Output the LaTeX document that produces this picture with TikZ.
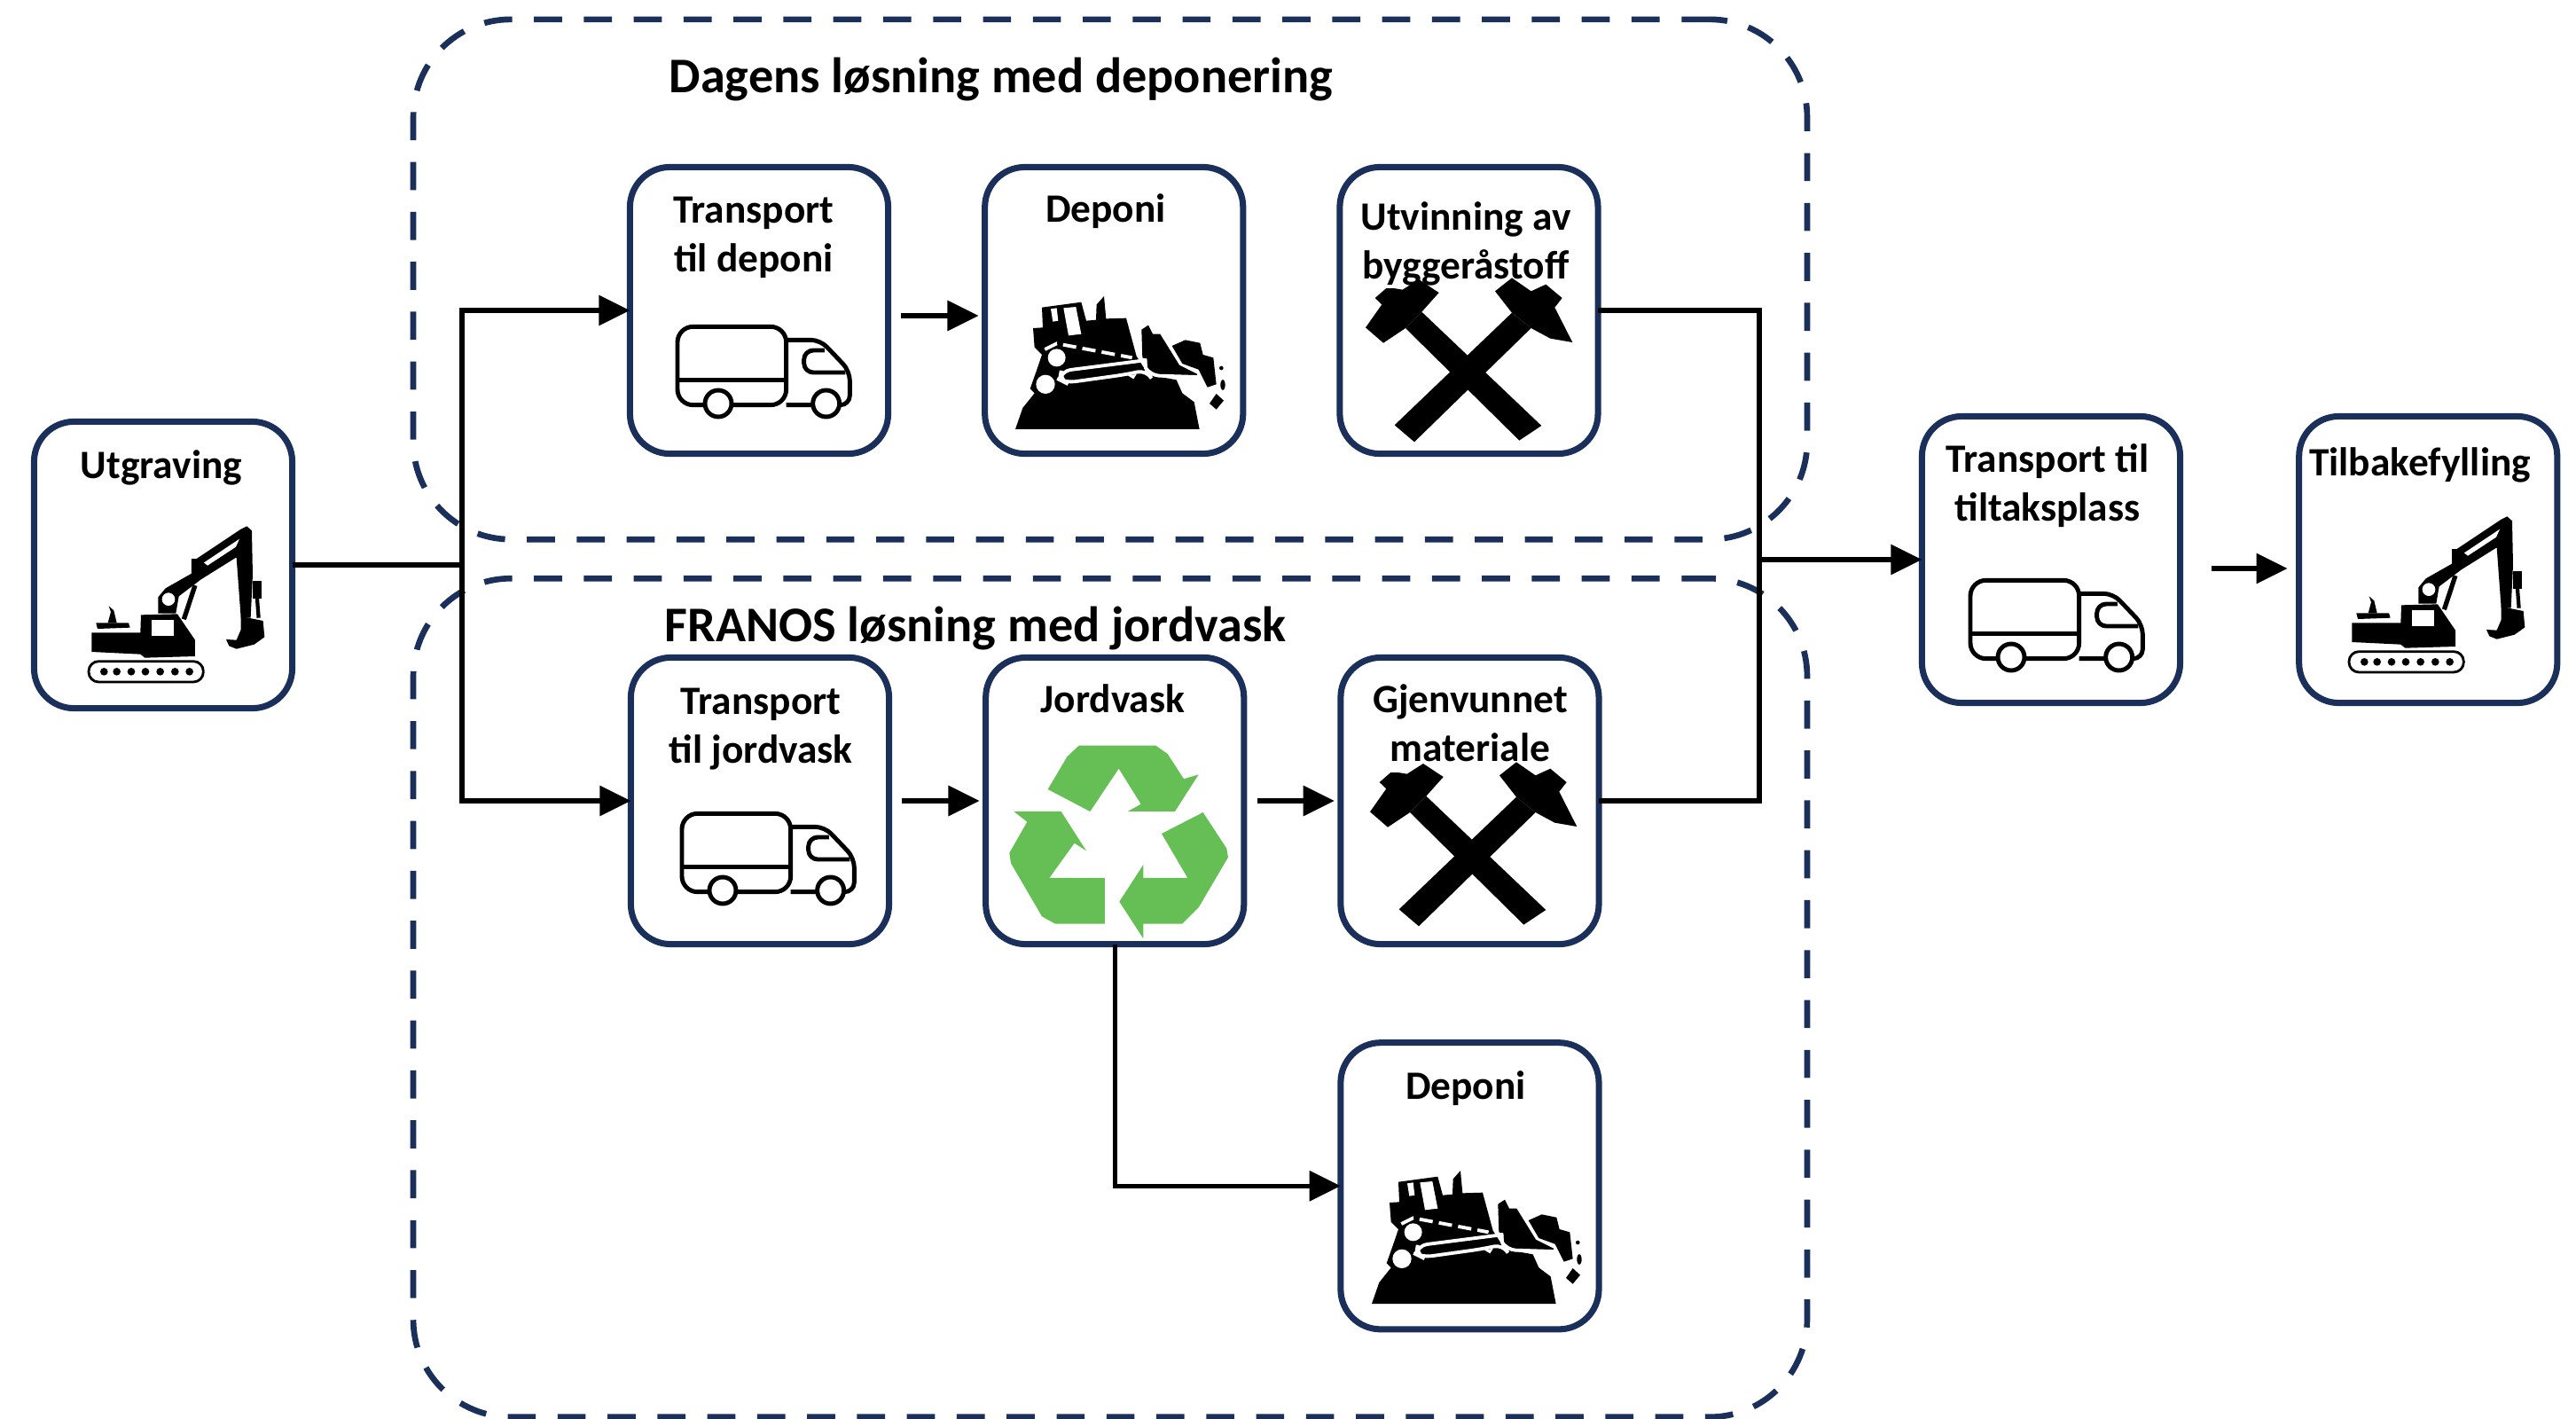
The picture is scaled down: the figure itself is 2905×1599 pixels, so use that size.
\documentclass[tikz,border=0pt]{standalone}
\usepackage{fontspec}
\setmainfont{Carlito}
\usepackage{tikz}
\usetikzlibrary{arrows.meta}

\definecolor{navy}{HTML}{1B2F5B}
\definecolor{leaf}{HTML}{66BF55}

\tikzset{
	pics/truck/.style={code={
		\begin{scope}[scale=0.3333, black, line width=1.4pt, line join=round]
			\draw[rounded corners=5pt] (590,350) -- (222,350) -- (222,85) -- (590,85) -- cycle;
			\draw (222,265) -- (590,265);
			\draw[rounded corners=3pt] (590,130) -- (705,130) -- (805,235) -- (805,350) -- (590,350);
			\draw[rounded corners=3pt] (790,240) -- (650,240) -- (650,165) -- (720,165);
			\draw[fill=white] (360,345) circle (45);
			\draw[fill=white] (725,345) circle (45);
		\end{scope}
	}},
	pics/digger/.style={code={
		\begin{scope}[scale=0.3333, black]
			\fill (40,385) -- (205,385) -- (207,325) -- (330,322) -- (390,410) -- (390,465) -- (220,470) -- (205,458) -- (40,450) -- cycle;
			\fill[white] (243,342) rectangle (318,395);
			\fill (55,352) -- (165,352) -- (170,368) -- (60,372) -- cycle;
			\fill (98,295) -- (115,310) -- (125,352) -- (95,352) -- (105,315) -- cycle;
			\fill (265,320) -- (265,265) -- (290,235) -- (378,185) -- (378,135) -- (395,135) -- (545,35) -- (565,25) -- (582,40) -- (585,190) -- (578,335) -- (545,335) -- (530,130) -- (410,205) -- (335,262) -- (325,320) -- cycle;
			\fill[white] (300,272) circle (22);
			\fill[white] (420,148) -- (540,68) -- (528,95) -- (432,158) -- cycle;
			\draw[line width=1.5pt] (352,340) -- (390,225);
			\fill (585,210) rectangle (615,270);
			\draw[line width=1.2pt] (600,270) -- (605,335);
			\fill (545,330) -- (620,345) -- (625,400) -- (590,425) -- (530,440) -- (505,430) -- (495,408) -- (530,410) -- (545,375) -- cycle;
			\draw[line width=0.8pt, rounded corners=3.2pt] (30,482) rectangle (418,552);
			\foreach \i in {82,125,174,222,272,322,371} \fill (\i,517) circle (13);
		\end{scope}
	}},
	pics/dozer/.style={code={
		\begin{scope}[scale=0.3333, black]
			\fill (135,80) -- (268,62) -- (285,125) -- (318,122) -- (320,70) -- (345,42) -- (352,118) -- (420,116) -- (455,245) -- (495,308) -- (590,325) -- (610,370) -- (650,400) -- (668,492) -- (45,492) -- (70,420) -- (110,370) -- (95,355) -- (118,290) -- (135,240) -- (110,215) -- (105,150) -- (138,148) -- cycle;
			\fill (472,155) -- (495,140) -- (510,170) -- (535,170) -- (600,275) -- (660,305) -- (660,320) -- (495,308) -- (490,255) -- (475,250) -- cycle;
			\fill[white] (165,85) -- (185,82) -- (190,125) -- (172,128) -- cycle;
			\fill[white] (208,82) -- (250,78) -- (268,170) -- (225,175) -- cycle;
			\draw[white, line width=1.1pt, dash pattern=on 4.3pt off 2pt] (145,222) -- (185,202) -- (440,250);
			\fill[white] (185,250) circle (30);
			\fill[white] (147,340) circle (32);
			\draw[white, line width=1.1pt, rounded corners=3pt] (490,258) -- (200,295) -- (195,325) -- (215,335) -- (410,308) -- (490,292) -- (500,310) -- (660,315);
			\fill[white] (425,310) -- (455,306) -- (445,322) -- cycle;
			\fill (575,210) -- (620,190) -- (670,200) -- (680,240) -- (715,250) -- (725,340) -- (695,350) -- (665,290) -- (610,270) -- cycle;
			\fill (725,372) -- (750,395) -- (725,425) -- (702,405) -- cycle;
			\fill (747,342) ellipse (8 and 18);
			\fill (742,285) circle (7);
		\end{scope}
	}},
	pics/hammers/.style={code={
		\begin{scope}[scale=0.3333, black]
			\fill (165,180) -- (220,125) -- (625,510) -- (550,560) -- cycle;
			\fill (525,128) -- (590,180) -- (195,565) -- (128,508) -- cycle;
			\fill (62,78) -- (100,45) -- (125,45) -- (155,50) -- (210,15) -- (278,60) -- (220,125) -- (165,180) -- (90,230) -- (30,178) -- (85,100) -- cycle;
			\fill (468,55) -- (525,10) -- (590,55) -- (640,32) -- (695,78) -- (670,110) -- (730,228) -- (655,215) -- (590,180) -- (525,128) -- cycle;
		\end{scope}
	}},
	pics/recycle/.style={code={
		\begin{scope}[scale=0.3333, leaf]
			\fill (245,480) -- (310,370) -- (350,332) -- (610,332) -- (650,360) -- (705,445) -- (755,430) -- (675,555) -- (515,555) -- (560,530) -- (485,410) -- (388,555) -- cycle;
			\fill (130,555) -- (290,555) -- (375,688) -- (335,662) -- (250,780) -- (438,780) -- (438,935) -- (270,935) -- (225,910) -- (120,730) -- (115,695) -- (175,590) -- cycle;
			\fill (630,630) -- (770,558) -- (850,680) -- (855,710) -- (755,880) -- (700,935) -- (568,935) -- (568,985) -- (487,860) -- (568,735) -- (568,780) -- (718,780) -- cycle;
		\end{scope}
	}}
}

\begin{document}
\begin{tikzpicture}[x=0.01cm, y=-0.01cm, node distance=4cm,
	box/.style={draw=navy, line width=2pt, fill=white, rounded corners=0.45cm, minimum width=2.91cm, minimum height=3.23cm, outer sep=0pt},
	group/.style={draw=navy, line width=1.9pt, dash pattern=on 9pt off 7pt, rounded corners=1.1cm},
	boxtext/.style={font=\fontsize{12.9}{15.6}\selectfont\bfseries, align=center},
	headtext/.style={font=\fontsize{16}{19}\selectfont\bfseries},
	flow/.style={line width=1.5pt, -{Triangle[length=10pt,width=9.5pt]}},
	wire/.style={line width=1.5pt}]
	\useasboundingbox (0,0) rectangle (2905,1599);

	\node[group, minimum width=15.71cm, minimum height=5.86cm] (dagens) at (1252,315) {};
	\node[group, minimum width=15.71cm, minimum height=9.45cm] (franos) at (1252,1125) {};
	\node[headtext] (dagenstxt) at (1129,90) {Dagens løsning med deponering};
	\node[headtext] (franostxt) at (1100,709) {FRANOS løsning med jordvask};

	\node[box] (utgraving) at (184,637) {};
	\node[box] (tdeponi) at (856,350) {};
	\node[box, right of=tdeponi] (deponi) {};
	\node[box, right of=deponi] (utvinning) {};
	\node[box] (tjordvask) at (857,903) {};
	\node[box, right of=tjordvask] (jordvask) {};
	\node[box, right of=jordvask] (gjenvunnet) {};
	\node[box, below of=gjenvunnet, node distance=4.34cm] (deponito) {};
	\node[box] (tiltak) at (2313,631) {};
	\node[box, right of=tiltak, node distance=4.25cm] (tilbake) {};

	\coordinate (split) at (521,637);
	\coordinate (merge) at (1984,631);

	\draw[wire] (utgraving.east) -- (split);
	\draw[flow] (split) |- (tdeponi.west);
	\draw[flow] (split) |- (tjordvask.west);
	\draw[wire] (utvinning.east) -| (merge);
	\draw[wire] (gjenvunnet.east) -| (merge);
	\draw[flow] (merge) -- (tiltak.west);
	\draw[flow] (jordvask.south) |- (deponito.west);
	\path[flow, shorten <=4.2pt, shorten >=2pt] ([yshift=-0.06cm]tdeponi.east) edge ([yshift=-0.06cm]deponi.west);
	\path[flow, shorten <=4.2pt, shorten >=2pt] (tjordvask.east) edge (jordvask.west);
	\path[flow, shorten <=4.2pt, shorten >=2pt] (jordvask.east) edge (gjenvunnet.west);
	\path[flow, shorten <=10pt, shorten >=3.7pt] ([yshift=-0.1cm]tiltak.east) edge ([yshift=-0.1cm]tilbake.west);

	\pic at (90,585) {digger};
	\pic at (2639,574) {digger};
	\pic at (690,340) {truck};
	\pic at (695,889) {truck};
	\pic at (2148,626) {truck};
	\pic at (1130,320) {dozer};
	\pic at (1532,1306) {dozer};
	\pic at (1530,310) {hammers};
	\pic at (1535,856) {hammers};
	\pic at (1100,730) {recycle};

	\node[boxtext] (utgravingtxt) at (182,527) {Utgraving};
	\node[boxtext] (tdeponitxt) at (850,268) {Transport\\til deponi};
	\node[boxtext] (deponitxt) at (1247,238) {Deponi};
	\node[boxtext] (utvinningtxt) at (1653,275) {Utvinning av\\byggeråstoff};
	\node[boxtext] (tjordvasktxt) at (858,822) {Transport\\til jordvask};
	\node[boxtext] (jordvasktxt) at (1255,788) {Jordvask};
	\node[boxtext] (gjenvunnettxt) at (1658,815) {Gjenvunnet\\materiale};
	\node[boxtext] (deponitotxt) at (1653,1227) {Deponi};
	\node[boxtext] (tiltaktxt) at (2309,548) {Transport til\\tiltaksplass};
	\node[boxtext] (tilbaketxt) at (2729,524) {Tilbakefylling};
\end{tikzpicture}
\end{document}
